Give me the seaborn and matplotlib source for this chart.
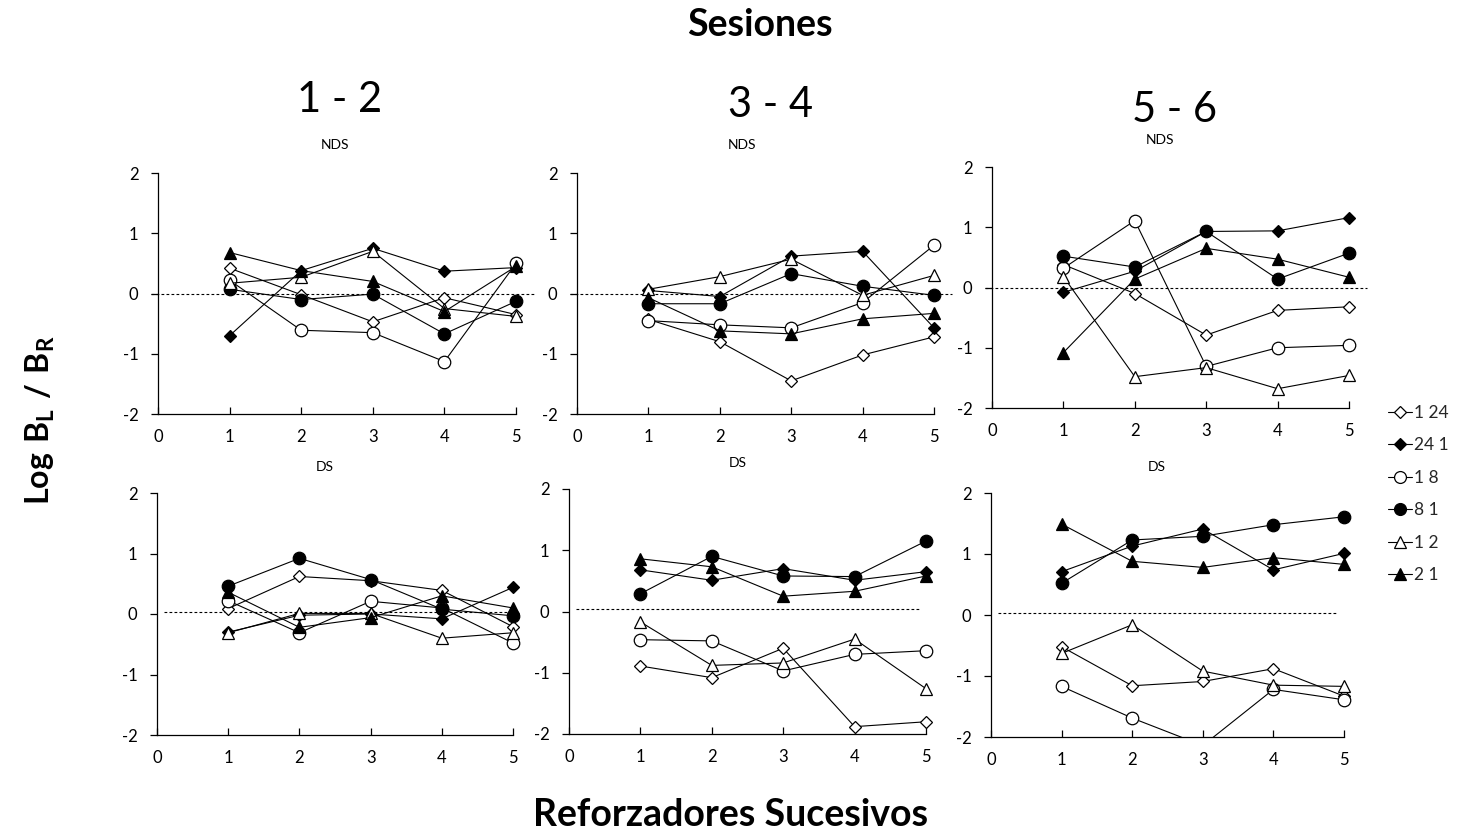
import matplotlib
matplotlib.use("Agg")
import matplotlib.pyplot as plt
from matplotlib.lines import Line2D
import seaborn as sns

# ---------------- data ----------------
reinforcers = [1, 2, 3, 4, 5]
series_labels = ["1 24", "24 1", "1 8", "8 1", "1 2", "2 1"]
session_titles = ["1 - 2", "3 - 4", "5 - 6"]
row_titles = ["NDS", "DS"]
x_ticks = [0, 1, 2, 3, 4, 5]
y_ticks = [-2, -1, 0, 1, 2]

# each list follows series_labels order
nds_12 = [
    [0.42, -0.02, -0.47, -0.07, -0.35],
    [-0.70, 0.38, 0.75, 0.37, 0.43],
    [0.22, -0.61, -0.65, -1.13, 0.50],
    [0.07, -0.10, -0.01, -0.67, -0.13],
    [0.17, 0.27, 0.70, -0.25, -0.38],
    [0.68, 0.38, 0.20, -0.30, 0.45],
]
nds_34 = [
    [-0.43, -0.80, -1.45, -1.02, -0.72],
    [0.05, -0.05, 0.62, 0.70, -0.57],
    [-0.45, -0.52, -0.57, -0.15, 0.80],
    [-0.17, -0.17, 0.33, 0.12, -0.03],
    [0.07, 0.28, 0.57, -0.03, 0.30],
    [-0.07, -0.62, -0.67, -0.42, -0.33],
]
nds_56 = [
    [0.38, -0.10, -0.79, -0.38, -0.32],
    [-0.08, 0.27, 0.93, 0.94, 1.16],
    [0.32, 1.11, -1.31, -1.00, -0.96],
    [0.52, 0.34, 0.93, 0.14, 0.57],
    [0.18, -1.48, -1.33, -1.68, -1.46],
    [-1.08, 0.14, 0.65, 0.47, 0.17],
]
ds_12 = [
    [0.09, 0.62, 0.55, 0.39, -0.21],
    [-0.30, -0.02, 0.00, -0.08, 0.44],
    [0.22, -0.31, 0.21, 0.10, -0.48],
    [0.46, 0.92, 0.57, 0.08, -0.03],
    [-0.31, 0.01, 0.01, -0.40, -0.31],
    [0.36, -0.22, -0.06, 0.30, 0.10],
]
ds_34 = [
    [-0.89, -1.08, -0.60, -1.88, -1.80],
    [0.68, 0.51, 0.70, 0.51, 0.65],
    [-0.46, -0.48, -0.97, -0.70, -0.64],
    [0.29, 0.90, 0.58, 0.57, 1.15],
    [-0.17, -0.88, -0.84, -0.45, -1.26],
    [0.86, 0.73, 0.25, 0.33, 0.58],
]
ds_56 = [
    [-0.52, -1.16, -1.09, -0.88, -1.33],
    [0.71, 1.13, 1.41, 0.74, 1.01],
    [-1.17, -1.69, -2.14, -1.22, -1.39],
    [0.52, 1.23, 1.29, 1.48, 1.61],
    [-0.63, -0.16, -0.92, -1.15, -1.17],
    [1.49, 0.88, 0.78, 0.94, 0.83],
]

# ---------------- style ----------------
sns.set_theme(style="ticks")
plt.rcParams["font.family"] = ["Lato", "DejaVu Sans"]
plt.rcParams["mathtext.fontset"] = "custom"
plt.rcParams["mathtext.rm"] = "Lato"
plt.rcParams["mathtext.bf"] = "Lato:bold"

markers = ["D", "D", "o", "o", "^", "^"]
faces = ["white", "black", "white", "black", "white", "black"]
sizes = [6, 6, 9, 9, 8.5, 8.5]

fig = plt.figure(figsize=(14.59, 8.33), dpi=100)
W, H = 1459.0, 833.0

# axes in pixel coords: (x at 0, x at 5, y top(2), y bottom(-2))
boxes = [
    [(158, 516, 173, 414), (577, 934, 173, 414), (992, 1349, 167, 408)],
    [(157, 513, 493, 735), (569, 926, 489, 734), (991, 1344, 493, 737)],
]
panels = [[nds_12, nds_34, nds_56], [ds_12, ds_34, ds_56]]
XMAX = 5.25

for r in range(2):
    for c in range(3):
        x0, x5, yt, yb = boxes[r][c]
        unit = (x5 - x0) / 5.0
        right = x0 + XMAX * unit
        ax = fig.add_axes([x0 / W, 1 - yb / H, (right - x0) / W, (yb - yt) / H])
        data = panels[r][c]
        # reference line
        if r == 0:
            ax.plot([-0.1, XMAX], [0, 0], color="black", lw=0.8,
                    ls=(0, (2.5, 2)), clip_on=False, zorder=1)
        else:
            ax.plot([0.1, 4.92], [0.04, 0.04], color="black", lw=0.8,
                    ls=(0, (2.5, 2)), zorder=1)
        for i, lab in enumerate(series_labels):
            sns.lineplot(x=reinforcers, y=data[i], ax=ax, color="black",
                         marker=markers[i], markersize=sizes[i],
                         markerfacecolor=faces[i], markeredgecolor="black",
                         markeredgewidth=0.9, linewidth=0.8, legend=False,
                         zorder=3)
        ax.set_xlim(0, XMAX)
        ax.set_ylim(-2, 2)
        ax.set_xticks(x_ticks)
        ax.set_yticks(y_ticks)
        ax.set_xticklabels([str(t) for t in x_ticks])
        ax.set_yticklabels([str(t) for t in y_ticks])
        ax.set_xlabel("")
        ax.set_ylabel("")
        for s in ["top", "right"]:
            ax.spines[s].set_visible(False)
        ax.spines["bottom"].set_bounds(0, 5)
        for s in ["left", "bottom"]:
            ax.spines[s].set_linewidth(0.9)
            ax.spines[s].set_color("black")
        ax.tick_params(axis="x", direction="in", length=5, width=0.9,
                       pad=11, labelsize=12, colors="black")
        ax.tick_params(axis="y", direction="out", length=5, width=0.9,
                       pad=9, labelsize=12, colors="black")
        ax.set_facecolor("none")

# row labels (NDS / DS)
row_pos = [[(335, 145), (742, 145), (1160, 140)],
           [(325, 467), (738, 463), (1157, 467)]]
for r in range(2):
    for c in range(3):
        px, py = row_pos[r][c]
        fig.text(px / W, 1 - py / H, row_titles[r], ha="center", va="center",
                 fontsize=10, color="black")

# session titles
sess_pos = [(340, 100), (770, 105), (1175, 110)]
for t, (px, py) in zip(session_titles, sess_pos):
    fig.text(px / W, 1 - py / H, t, ha="center", va="center", fontsize=30,
             color="black")

fig.text(760 / W, 1 - 25 / H, "Sesiones", ha="center", va="center",
         fontsize=27, fontweight="bold", color="black")
fig.text(731 / W, 1 - 815 / H, "Reforzadores Sucesivos", ha="center",
         va="center", fontsize=27, fontweight="bold", color="black")
fig.text(40 / W, 1 - 420 / H, r"$\mathbf{Log\ B_L\ /\ B_R}$", ha="center",
         va="center", rotation=90, fontsize=23, color="black")

# legend
handles = [Line2D([0], [0], color="black", lw=0.8, marker=markers[i],
                  markersize=sizes[i] * 0.95, markerfacecolor=faces[i],
                  markeredgecolor="black", markeredgewidth=0.9)
           for i in range(len(series_labels))]
fig.legend(handles, series_labels, loc="center",
           bbox_to_anchor=(1418 / W, 1 - 494 / H), frameon=False,
           fontsize=12.5, handlelength=1.4, handletextpad=0.1,
           labelspacing=0.95, borderpad=0.2)

fig.savefig("out.png", dpi=100)
